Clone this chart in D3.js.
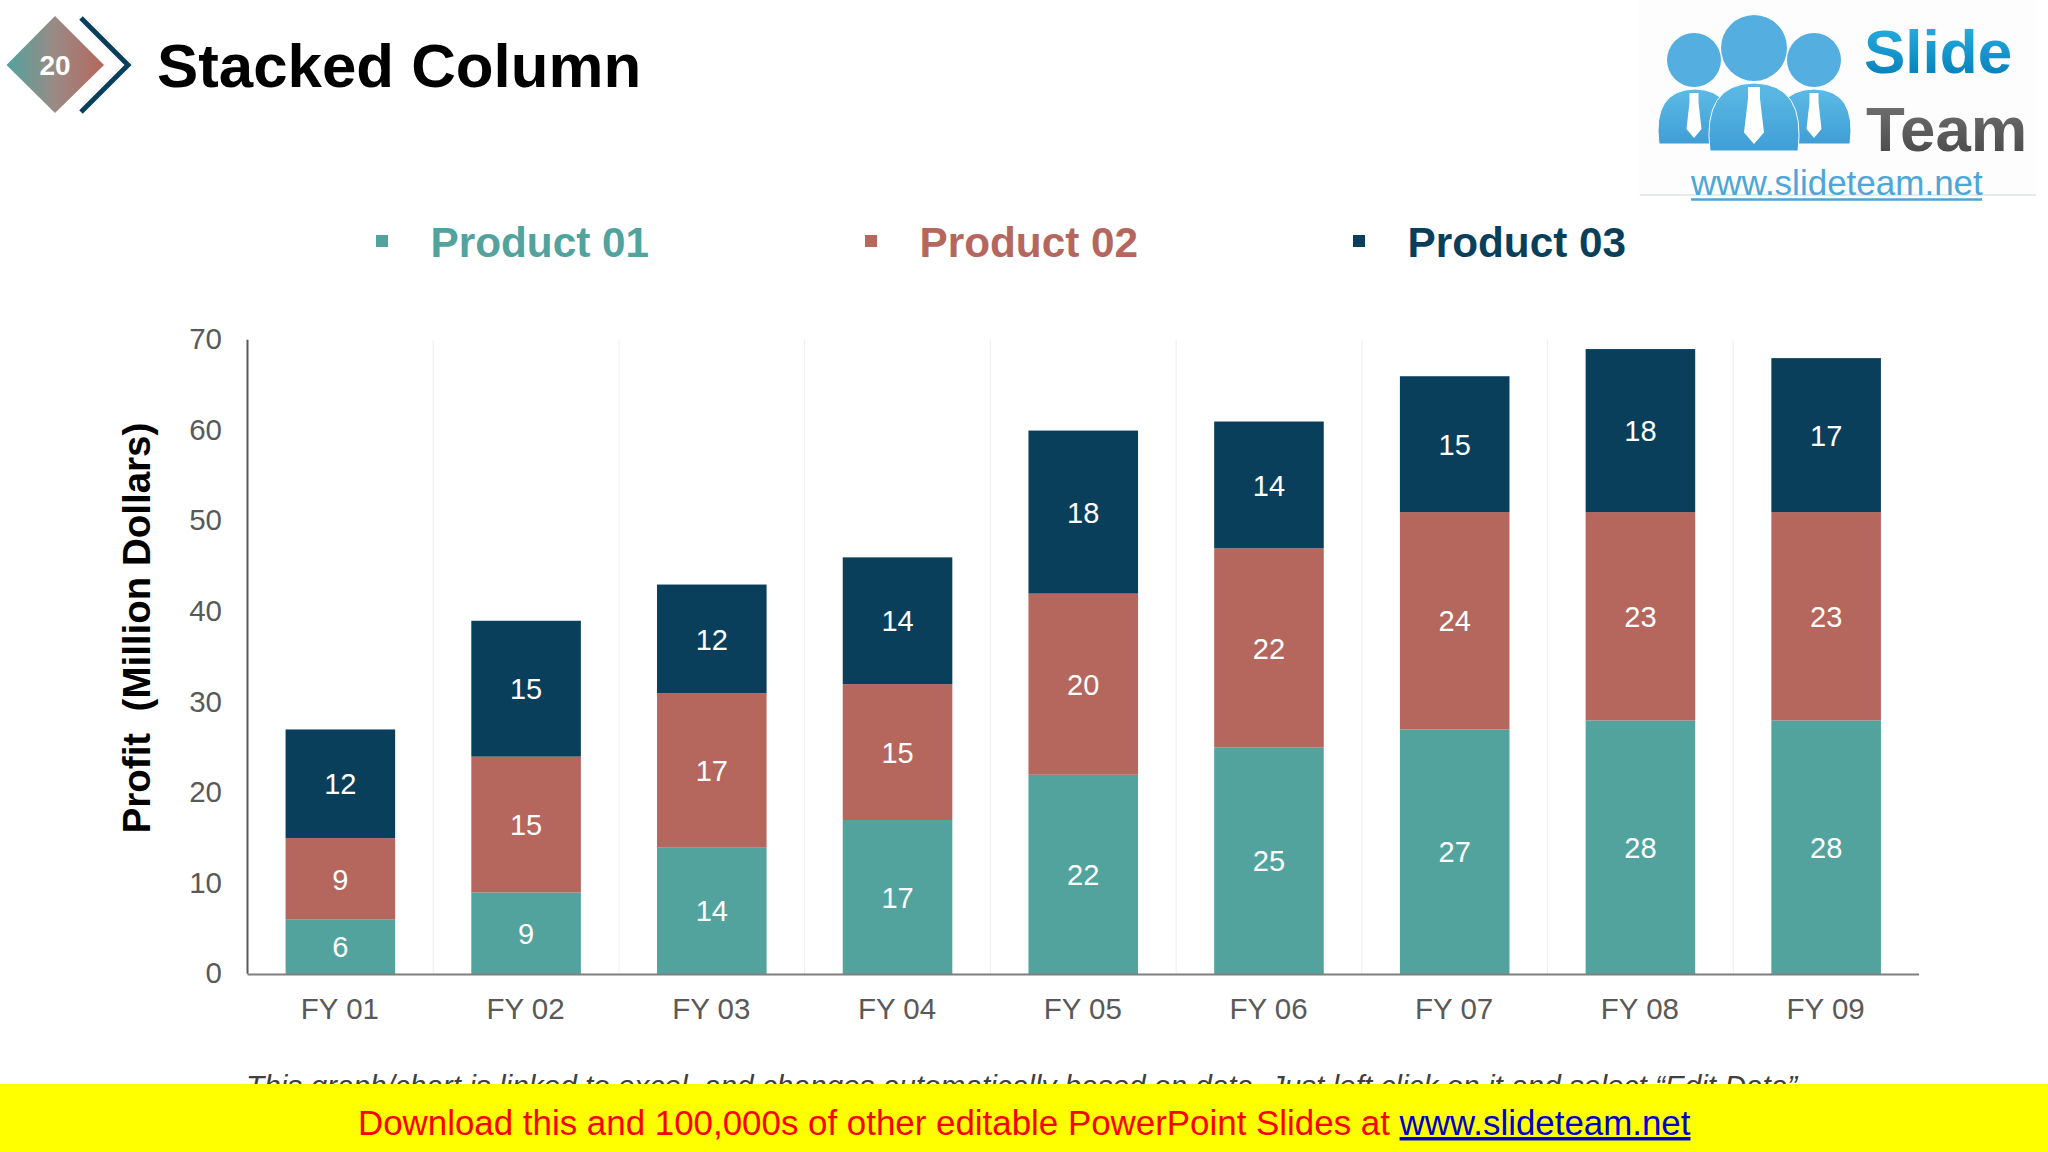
<!DOCTYPE html>
<html><head><meta charset="utf-8">
<script src="https://cdnjs.cloudflare.com/ajax/libs/d3/7.8.5/d3.min.js"></script>
<style>
html,body{margin:0;padding:0;background:#fff;overflow:hidden}
text{font-family:"Liberation Sans",Arial,sans-serif;white-space:pre}
</style></head><body>
<svg id="c" width="2048" height="1152" xmlns="http://www.w3.org/2000/svg"></svg>
<script>
const categories = ["FY 01","FY 02","FY 03","FY 04","FY 05","FY 06","FY 07","FY 08","FY 09"];
const seriesNames = ["Product 01","Product 02","Product 03"];
const product01 = [6,9,14,17,22,25,27,28,28];
const product02 = [9,15,17,15,20,22,24,23,23];
const product03 = [12,15,12,14,18,14,15,18,17];
const yTicks = [0,10,20,30,40,50,60,70];
const colors = ["#52A39D","#B5675D","#0A3F5C"];
const chartTitle = "Stacked Column";
const yTitle = "Profit  (Million Dollars)";

const svg = d3.select("#c");
const defs = svg.append("defs");
function grad(id, stops, x2, y2){
  const g = defs.append("linearGradient").attr("id",id).attr("x1",0).attr("y1",0).attr("x2",x2).attr("y2",y2);
  stops.forEach((s,i)=>g.append("stop").attr("offset",i/(stops.length-1)).attr("stop-color",s));
}
grad("dia",["#52A39D","#9a8a84","#B5675D"],1,0);
grad("slide",["#2cb5e6","#0078b4"],0,1);
grad("team",["#777777","#444444"],0,1);
grad("body",["#5dbae6","#3f9ed6"],0,1);

/* header badge */
svg.append("path").attr("d","M6.5,65 L55,16 L104,65 L55,113 Z").attr("fill","url(#dia)");
svg.append("path").attr("d","M81,18 L128,65 L81,112").attr("fill","none").attr("stroke","#0A3F5C").attr("stroke-width",5);
svg.append("text").attr("x",55).attr("y",75).attr("text-anchor","middle").attr("font-weight","bold").attr("font-size",28).attr("fill","#fff").text("20");
svg.append("text").attr("x",157).attr("y",87).attr("font-weight","bold").attr("font-size",61.8).attr("fill","#000").text(chartTitle);

/* logo */
const logo = svg.append("g");
logo.append("rect").attr("x",1638).attr("y",0).attr("width",398).attr("height",195).attr("fill","#fdfdfd");
[[1694,60,27],[1814,60,27],[1754,48,33]].forEach(c=>logo.append("circle").attr("cx",c[0]).attr("cy",c[1]).attr("r",c[2]).attr("fill","#55aee0"));
["M1659,144 Q1652,90 1695,89 Q1738,90 1731,144 Z","M1777,144 Q1770,90 1814,89 Q1857,90 1850,144 Z","M1710,151 Q1702,84 1754,83 Q1806,84 1798,151 Z"]
  .forEach(d=>logo.append("path").attr("d",d).attr("fill","url(#body)").attr("stroke","#fff").attr("stroke-width",1));
[[1694,93,15,45],[1814,93,15,45],[1754,87,20,57]].forEach(t=>{
  const [x,y,w,h]=t;
  logo.append("path").attr("d",`M${x-w*.3},${y} h${w*.6} v${h*.2} l${w*.2},${h*.6} l${-w*.5},${h*.2} l${-w*.5},${-h*.2} l${w*.2},${-h*.6} Z`).attr("fill","#fff");
});
logo.append("text").attr("x",1864).attr("y",73).attr("font-weight","bold").attr("font-size",62).attr("fill","url(#slide)").text("Slide");
logo.append("text").attr("x",1866).attr("y",151).attr("font-weight","bold").attr("font-size",63.5).attr("fill","url(#team)").text("Team");
logo.append("line").attr("x1",1640).attr("x2",2036).attr("y1",195).attr("y2",195).attr("stroke","#cfd6da").attr("stroke-width",1);
logo.append("text").attr("x",1691).attr("y",195).attr("font-size",35).attr("fill","#4da6d6").text("www.slideteam.net");
logo.append("line").attr("x1",1691).attr("x2",1982).attr("y1",199.5).attr("y2",199.5).attr("stroke","#4da6d6").attr("stroke-width",2.5);

/* legend */
const legendX = [382,871,1359];
seriesNames.forEach((n,i)=>{
  svg.append("rect").attr("x",legendX[i]-6).attr("y",235).attr("width",12).attr("height",12).attr("fill",colors[i]);
  svg.append("text").attr("x",legendX[i]+48.5).attr("y",257).attr("font-weight","bold").attr("font-size",42.3).attr("fill",colors[i]).text(n);
});

/* chart */
const x = d3.scaleBand().domain(categories).range([247.5,1919]).paddingInner(0.41).paddingOuter(0.205);
const y = d3.scaleLinear().domain([0,70]).range([974,340]);
const rows = categories.map((c,i)=>({cat:c,[seriesNames[0]]:product01[i],[seriesNames[1]]:product02[i],[seriesNames[2]]:product03[i]}));
const stacked = d3.stack().keys(seriesNames)(rows);

const step = x.step();
svg.append("g").selectAll("line").data(categories.slice(1)).join("line")
  .attr("x1",d=>x(d)-(step-x.bandwidth())/2).attr("x2",d=>x(d)-(step-x.bandwidth())/2)
  .attr("y1",y(70)).attr("y2",y(0)).attr("stroke","#eeeeee").attr("stroke-width",1);

const layers = svg.append("g").selectAll("g").data(stacked).join("g").attr("fill",(d,i)=>colors[i]);
layers.selectAll("rect").data(d=>d).join("rect")
  .attr("x",d=>x(d.data.cat)).attr("width",x.bandwidth())
  .attr("y",d=>y(d[1])).attr("height",d=>y(d[0])-y(d[1]));
const labels = svg.append("g").selectAll("g").data(stacked).join("g");
labels.selectAll("text").data(d=>d.map(v=>({v,n:v[1]-v[0]}))).join("text")
  .attr("x",d=>x(d.v.data.cat)+x.bandwidth()/2).attr("y",d=>y((d.v[0]+d.v[1])/2)+3)
  .attr("text-anchor","middle").attr("dominant-baseline","middle")
  .attr("font-size",29).attr("fill","#fff").text(d=>d.n);

const gy = svg.append("g").attr("transform","translate(247,-0.7)")
  .call(d3.axisLeft(y).tickValues(yTicks).tickSize(0).tickPadding(25));
gy.select(".domain").attr("stroke","#595959").attr("stroke-width",2);
gy.selectAll("text").attr("font-size",29.5).attr("fill","#595959").style("font-family",'"Liberation Sans"');

const gx = svg.append("g").attr("transform","translate(-0.5,974)")
  .call(d3.axisBottom(x).tickSize(0).tickPadding(24.5));
gx.select(".domain").attr("stroke","#7f7f7f").attr("stroke-width",2);
gx.selectAll("text").attr("font-size",29.5).attr("fill","#595959").style("font-family",'"Liberation Sans"');

svg.append("text").attr("transform","translate(150,628) rotate(-90)").attr("text-anchor","middle")
  .attr("font-weight","bold").attr("font-size",38.5).attr("fill","#000").text(yTitle);

svg.append("text").attr("x",246).attr("y",1096).attr("font-size",29.75).attr("font-style","italic").attr("fill","#404040")
  .text("This graph/chart is linked to excel, and changes automatically based on data. Just left click on it and select “Edit Data”.");

/* banner */
svg.append("rect").attr("x",0).attr("y",1084).attr("width",2048).attr("height",68).attr("fill","#ffff00");
const b = svg.append("text").attr("x",358).attr("y",1135).attr("font-size",34.9);
b.append("tspan").attr("fill","#ff0000").text("Download this and 100,000s of other editable PowerPoint Slides at ");
b.append("tspan").attr("fill","#0000cc").attr("text-decoration","underline").text("www.slideteam.net");
</script>
</body></html>
